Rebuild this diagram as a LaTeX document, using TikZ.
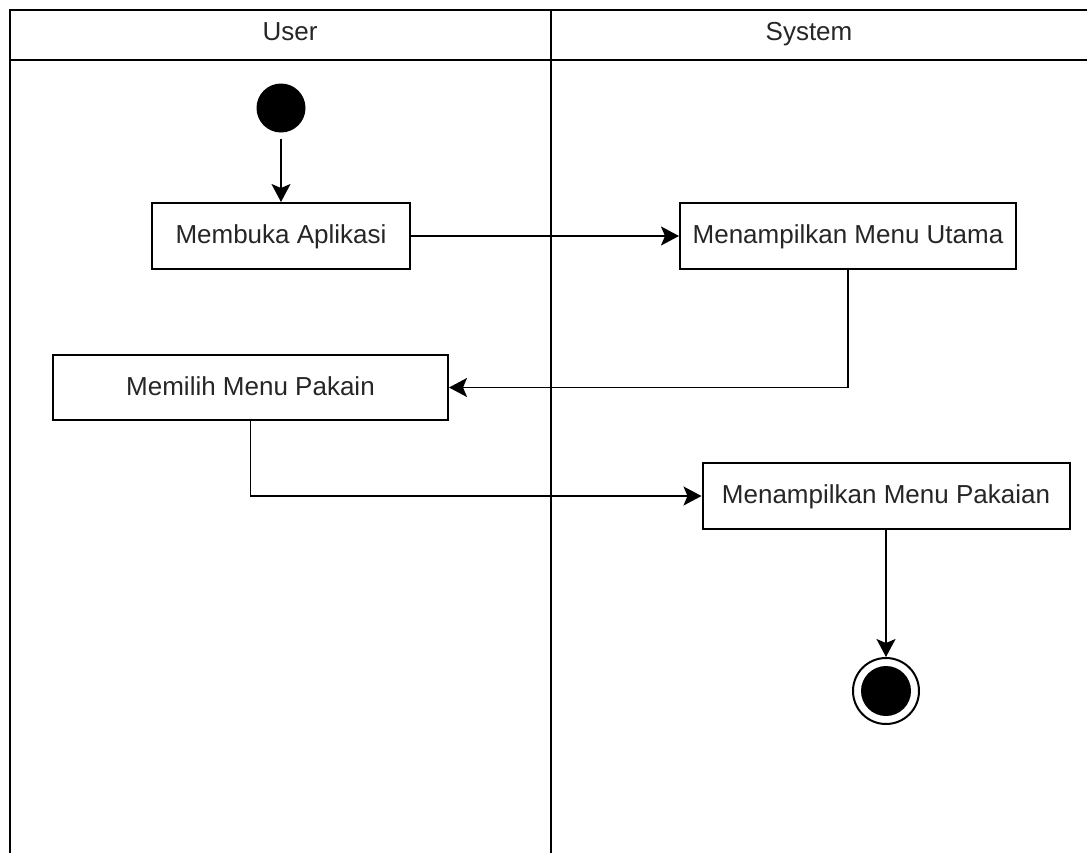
\documentclass[tikz,border=0pt]{standalone}
\usepackage{fontspec}
\setmainfont{Liberation Sans}
\usetikzlibrary{arrows.meta,positioning}
\definecolor{ink}{HTML}{262626}
\tikzset{
  lane/.style={draw=black, line width=2.2pt},
  act/.style={draw=black, line width=2pt, fill=white, rectangle, inner sep=0pt,
              minimum height=66pt, text=ink, text height=19pt, text depth=4pt,
              font=\fontsize{26}{30}\selectfont},
  flow/.style={draw=black, line width=1.8pt,
               -{Stealth[length=18pt,width=19pt,inset=4pt]}},
  lanetitle/.style={text=ink, font=\fontsize{26}{30}\selectfont, inner sep=0pt, anchor=base},
}
\begin{document}
\begin{tikzpicture}[x=1pt,y=-1pt]
  \useasboundingbox[fill=white] (0,0) rectangle (1087,852);
  \begin{scope}
    \clip (0,0) rectangle (1087,852);
    % swimlane frame
    \draw[lane] (10,860) -- (10,10) -- (1095,10);
    \draw[lane] (10,60) -- (1095,60);
    \draw[lane] (551,10) -- (551,860);
  \end{scope}
  \node[lanetitle] (userlane) at (290,40) {User};
  \node[lanetitle] (syslane) at (809,40) {System};

  % activities
  \node[circle, fill=black, minimum size=49pt, inner sep=0pt] (start) at (281,108) {};
  \node[act, minimum width=258pt] (open) at (281,236) {Membuka Aplikasi};
  \node[act, minimum width=336pt] (mainmenu) at (848,236) {Menampilkan Menu Utama};
  \node[act, minimum width=395pt, minimum height=65pt] (choose) at (250.5,387.5) {Memilih Menu Pakain};
  \node[act, minimum width=367pt] (clothes) at (886,496) {Menampilkan Menu Pakaian};
  \node[circle, draw=black, line width=2pt, fill=white, minimum size=66pt, inner sep=0pt] (final) at (886,691) {};
  \node[circle, fill=black, minimum size=50pt, inner sep=0pt] (finaldot) at (final.center) {};

  % control flow
  \coordinate (startgap) at ([yshift=-6pt]start.south);
  \draw[flow] (startgap) -- (open.north);
  \draw[flow] (open.east) -- (mainmenu.west);
  \draw[flow] (mainmenu.south) |- (choose.east);
  \draw[flow] (choose.south) |- (clothes.west);
  \draw[flow] (clothes.south) -- (final.north);
\end{tikzpicture}
\end{document}
